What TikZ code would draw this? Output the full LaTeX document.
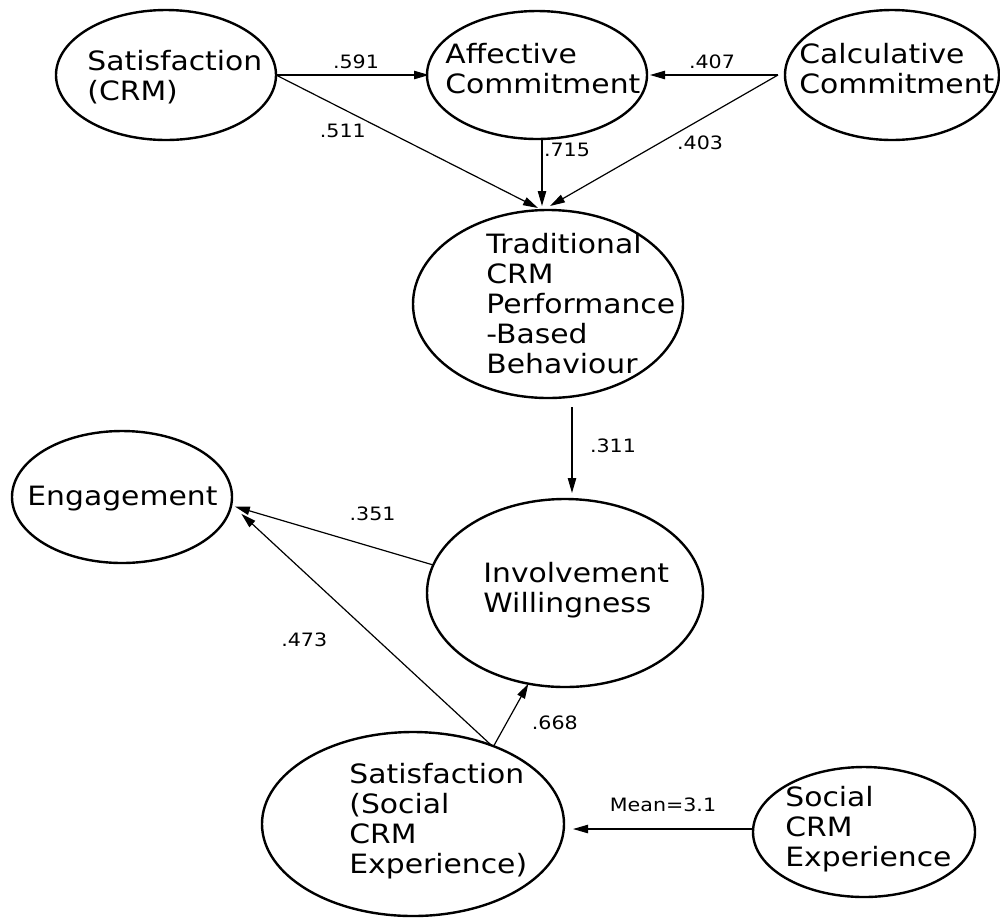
\documentclass[tikz,border=0pt]{standalone}
\usepackage{fontspec}
\setmainfont{DejaVu Sans}[FakeStretch=1.12]
\usetikzlibrary{shapes.geometric,arrows.meta}
\begin{document}
\begin{tikzpicture}[x=0.5pt,y=-0.5pt,
  lv/.style={draw, ellipse, line width=1.2pt, inner sep=0pt, outer sep=0pt},
  txt/.style={anchor=north west, inner sep=0pt, align=left, font=\fontsize{13.3}{15}\selectfont},
  arr/.style={line width=0.6pt, -{Triangle[length=7.5pt,width=4.2pt]}},
  lab/.style={font=\fontsize{9.2}{11}\selectfont, inner sep=0pt}]
\useasboundingbox (0,0) rectangle (1000,917);

% latent variables
\node[lv, minimum width=110pt, minimum height=65pt] (satC) at (166,75) {};
\node[lv, minimum width=110pt, minimum height=64pt] (aff)  at (537,75) {};
\node[lv, minimum width=107pt, minimum height=65pt] (calc) at (892,75) {};
\node[lv, minimum width=135pt, minimum height=94pt] (trad) at (548,304) {};
\node[lv, minimum width=110pt, minimum height=66pt] (eng)  at (122,497) {};
\node[lv, minimum width=138pt, minimum height=94pt] (inv)  at (565,593) {};
\node[lv, minimum width=151pt, minimum height=92pt] (satS) at (413,824) {};
\node[lv, minimum width=111pt, minimum height=65pt] (soc)  at (864,832) {};

% texts
\node[txt] (tsatC) at (87,49)   {\strut Satisfaction\\(CRM)};
\node[txt] (taff)  at (445,42)  {\strut Affective\\Commitment};
\node[txt] (tcalc) at (799,42)  {\strut Calculative\\Commitment};
\node[txt] (ttrad) at (486,232) {\strut Traditional\\CRM\\Performance\\-Based\\Behaviour};
\node[txt] (teng)  at (27,484)  {\strut Engagement};
\node[txt] (tinv)  at (483,561) {\strut Involvement\\Willingness};
\node[txt] (tsatS) at (349,762) {\strut Satisfaction\\(Social\\CRM\\Experience)};
\node[txt] (tsoc)  at (785,785) {\strut Social\\CRM\\Experience};

% paths
\coordinate (calcL) at ([xshift=-3.5pt]calc.west);
\draw[arr] (satC.east) -- ([xshift=1pt]aff.west)
  node[lab, pos=0.5, xshift=1.75pt, yshift=6.75pt] {.591};
\draw[arr] (satC.east) -- ([xshift=-5pt,yshift=1pt]trad.north)
  node[lab, pos=0.255, yshift=-11pt] {.511};
\draw[arr] ([xshift=2.5pt]aff.south) -- ([xshift=-3pt,yshift=2pt]trad.north)
  node[lab, pos=0.16, xshift=12.5pt] {.715};
\draw[arr] (calcL) -- ([xshift=1.5pt]aff.east)
  node[lab, pos=0.5, xshift=-1pt, yshift=6.5pt] {.407};
\draw[arr] (calcL) -- ([xshift=1pt,yshift=2pt]trad.north)
  node[lab, pos=0.342, yshift=-11.5pt] {.403};
\draw[arr] ([xshift=12pt,yshift=-4.5pt]trad.south) -- ([xshift=3.5pt,yshift=3pt]inv.north)
  node[lab, pos=0.45, xshift=20.5pt] {.311};
\draw[arr] (inv.168) -- ([xshift=2pt]eng.-5)
  node[lab, pos=0.306, yshift=16.5pt] {.351};
\draw[arr] (satS.45) -- ([xshift=6.5pt]eng.-9)
  node[lab, pos=0.457, xshift=-36.5pt] {.473};
\draw[arr] (satS.44) -- (inv.-112)
  node[lab, pos=0.38, xshift=24pt] {.668};
\draw[arr] ([yshift=1.5pt]soc.west) -- ([xshift=4.5pt,yshift=-2.5pt]satS.east)
  node[lab, pos=0.5, yshift=12pt] {Mean=3.1};
\end{tikzpicture}
\end{document}
